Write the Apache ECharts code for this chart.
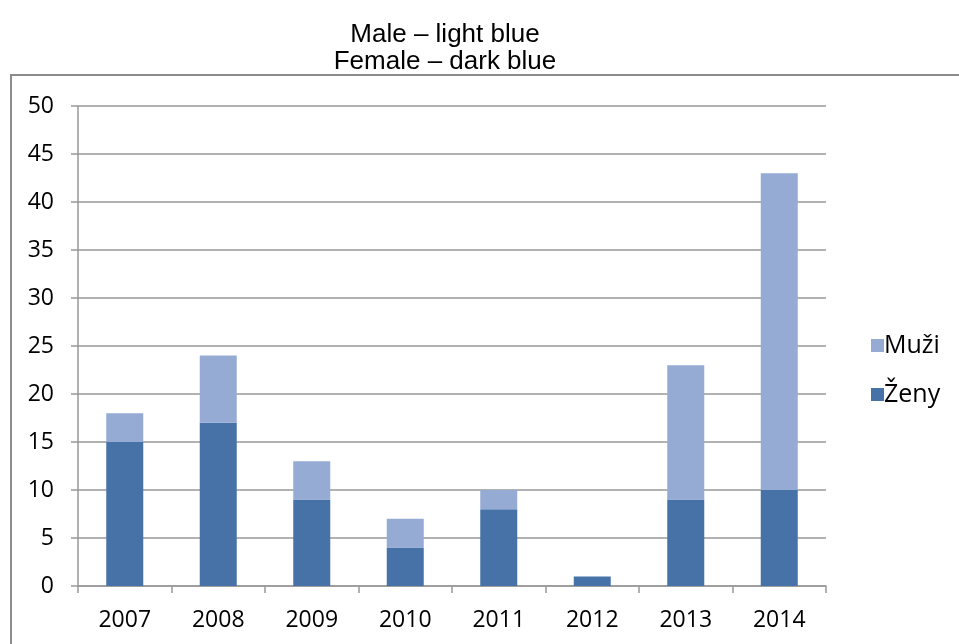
<!DOCTYPE html>
<html><head><meta charset="utf-8">
<script src="https://cdn.jsdelivr.net/npm/echarts@6/dist/echarts.min.js"></script>
<style>html,body{margin:0;padding:0;background:#fff}#c{width:959px;height:644px}</style>
</head><body><div id="c"></div>
<script>
var categories = ['2007','2008','2009','2010','2011','2012','2013','2014'];
var zeny = [15, 17, 9, 4, 8, 1, 9, 10];
var muzi = [3, 7, 4, 3, 2, 0, 14, 33];
var titleLines = ['Male \u2013 light blue', 'Female \u2013 dark blue'];
var chart = echarts.init(document.getElementById('c'));
var tickFont = "'Open Sans', 'DejaVu Sans', sans-serif";
chart.setOption({
  animation: false,
  graphic: [
    {type:'rect', shape:{x:11, y:75, width:980, height:620}, style:{fill:'none', stroke:'#8c8c8c', lineWidth:2}, z:-1},
    {type:'text', x:445, y:21, style:{text:titleLines.join('\n'), font:"26px 'Liberation Sans', Arial, sans-serif", lineHeight:27, fill:'#000', align:'center', verticalAlign:'top'}}
  ],
  grid: {left:78, right:133, top:106, bottom:58},
  legend: {
    data: ['Muži','Ženy'], orient:'vertical', left:866, top:328, itemGap:24,
    itemWidth:13, itemHeight:13, icon:'rect',
    textStyle:{fontFamily:tickFont, fontSize:25, color:'#000', padding:[0,0,0,-5]}
  },
  xAxis: {
    type:'category', data:categories,
    axisLine:{lineStyle:{color:'#999', width:1.5}},
    axisTick:{show:true, length:7, lineStyle:{color:'#999', width:1.5}},
    axisLabel:{fontFamily:tickFont, fontSize:23, color:'#000', margin:23}
  },
  yAxis: {
    type:'value', min:0, max:50, interval:5,
    axisLine:{show:true, lineStyle:{color:'#999', width:1.5}},
    axisTick:{show:true, length:7, lineStyle:{color:'#999', width:1.5}},
    splitLine:{lineStyle:{color:'#999', width:1.5}},
    axisLabel:{fontFamily:tickFont, fontSize:23, color:'#000', margin:24}
  },
  series: [
    {name:'Ženy', type:'bar', stack:'a', data:zeny, barWidth:37, itemStyle:{color:'#4672a8'}},
    {name:'Muži', type:'bar', stack:'a', data:muzi, barWidth:37, itemStyle:{color:'#95abd3'}}
  ]
});
</script></body></html>
